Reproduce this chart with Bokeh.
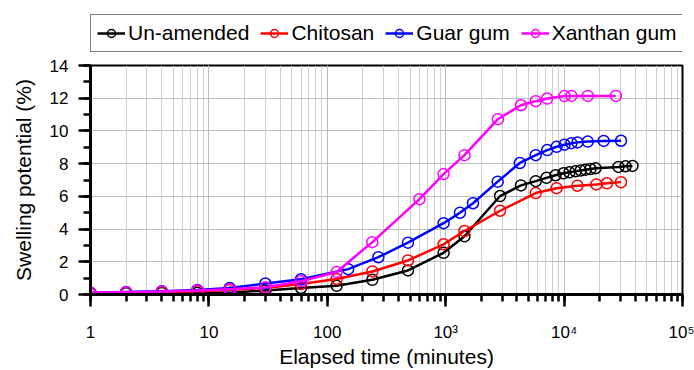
from bokeh.plotting import figure
from bokeh.layouts import column
from bokeh.models import Range1d, SingleIntervalTicker, LogTicker, Legend, LegendItem
from bokeh.embed import file_html
from bokeh.resources import INLINE

# ---- data ----
t_unamended = [1, 2, 4, 8, 15, 30, 60, 120, 240, 480, 960, 1440, 2880, 4320, 5760,
               7100, 8460, 9880, 11100, 12500, 13800, 15200, 16700, 18400, 28800, 33000, 37800]
y_unamended = [0.06, 0.07, 0.09, 0.1, 0.1, 0.25, 0.4, 0.53, 0.9, 1.47, 2.55, 3.56, 6.02, 6.67, 6.93,
               7.13, 7.29, 7.41, 7.47, 7.53, 7.58, 7.63, 7.67, 7.72, 7.80, 7.84, 7.86]

t_chitosan = [1, 2, 4, 8, 15, 30, 60, 120, 240, 480, 960, 1440, 2880, 5760, 8640, 12960, 18720, 23040, 30240]
y_chitosan = [0.08, 0.12, 0.15, 0.2, 0.28, 0.4, 0.64, 0.95, 1.41, 2.08, 3.07, 3.88, 5.12, 6.2, 6.5, 6.65, 6.73, 6.8, 6.87]

t_guar = [1, 2, 4, 8, 15, 30, 60, 150, 270, 480, 960, 1320, 1700, 2750, 4230, 5760, 7200, 8640,
          10080, 11520, 12960, 15840, 21600, 30240]
y_guar = [0.1, 0.16, 0.2, 0.28, 0.4, 0.67, 0.93, 1.55, 2.28, 3.17, 4.36, 5.0, 5.58, 6.9, 8.04, 8.52, 8.83, 9.03,
          9.16, 9.25, 9.3, 9.35, 9.39, 9.4]

t_xanthan = [1, 2, 4, 8, 15, 30, 60, 120, 240, 600, 960, 1440, 2760, 4320, 5760, 7200, 10080, 11520, 15840, 27360]
y_xanthan = [0.1, 0.14, 0.18, 0.25, 0.32, 0.44, 0.81, 1.38, 3.2, 5.83, 7.36, 8.52, 10.72, 11.57, 11.82, 11.98,
             12.13, 12.14, 12.14, 12.14]

series_names = ["Un-amended", "Chitosan", "Guar gum", "Xanthan gum"]
series_colors = ["#000000", "#ff0000", "#0000ff", "#ff00ff"]
series_t = [t_unamended, t_chitosan, t_guar, t_xanthan]
series_y = [y_unamended, y_chitosan, y_guar, y_xanthan]

x_tick_labels = {1: "1", 10: "10", 100: "100", 1000: "10\u00b3", 10000: "10\u2074", 100000: "10\u2075"}

FONT = "Liberation Sans"

# ---------------- main chart ----------------
p = figure(width=694, height=315, x_axis_type="log",
           x_range=Range1d(1, 1e5), y_range=Range1d(0, 14),
           output_backend="svg", toolbar_location=None,
           min_border_left=90, min_border_right=12, min_border_top=10, min_border_bottom=74)

p.outline_line_color = "black"
p.outline_line_width = 2
p.background_fill_color = "white"
p.border_fill_color = "white"

p.xgrid.grid_line_color = "#bdbdbd"
p.xgrid.minor_grid_line_color = "#cfcfcf"
p.ygrid.grid_line_color = "#bdbdbd"

p.xaxis.ticker = LogTicker(num_minor_ticks=10)
p.xaxis.major_label_overrides = x_tick_labels
p.xaxis.axis_label = "Elapsed time (minutes)"
p.yaxis.axis_label = "Swelling potential (%)"
p.yaxis.ticker = SingleIntervalTicker(interval=2, num_minor_ticks=2)

for ax in (p.xaxis, p.yaxis):
    ax.axis_line_width = 3
    ax.axis_line_color = "black"
    ax.major_tick_line_width = 2.5
    ax.minor_tick_line_width = 2.5
    ax.major_tick_in = 0
    ax.minor_tick_in = 0
    ax.major_tick_out = 12
    ax.minor_tick_out = 7
    ax.major_label_text_font = FONT
    ax.major_label_text_font_size = "17px"
    ax.major_label_text_color = "black"
    ax.axis_label_text_font = FONT
    ax.axis_label_text_font_size = "21px"
    ax.axis_label_text_font_style = "normal"
    ax.axis_label_text_color = "black"

p.xaxis.major_label_standoff = 16
p.xaxis.axis_label_standoff = 0
p.yaxis.major_label_standoff = 10
p.yaxis.axis_label_standoff = 12

for name, col, tt, yy in zip(series_names, series_colors, series_t, series_y):
    p.line(tt, yy, line_color=col, line_width=2.5)
    p.scatter(tt, yy, marker="circle", size=11, fill_color=None, line_color=col, line_width=1.5)

# ---------------- legend strip (series drawn out of view, only the legend shows) ----------------
lg = figure(width=694, height=55, x_range=Range1d(-2, -1), y_range=Range1d(-2, -1),
            output_backend="svg", toolbar_location=None,
            x_axis_location=None, y_axis_location=None,
            min_border_left=90, min_border_right=12, min_border_top=0, min_border_bottom=0)
lg.outline_line_color = None
lg.grid.visible = False
lg.background_fill_color = "white"
lg.border_fill_color = "white"

items = []
for name, col, tt, yy in zip(series_names, series_colors, series_t, series_y):
    ln = lg.line(tt, yy, line_color=col, line_width=2.5)
    sc = lg.scatter(tt, yy, marker="circle", size=11, fill_color=None, line_color=col, line_width=1.5)
    items.append(LegendItem(label=name, renderers=[ln, sc]))

legend = Legend(items=items, orientation="horizontal", location=(0, 3))
legend.label_text_font = FONT
legend.label_text_font_size = "21px"
legend.label_text_color = "black"
legend.glyph_width = 28
legend.glyph_height = 20
legend.label_standoff = 3
legend.spacing = 11
legend.padding = 6
legend.margin = 0
legend.border_line_color = "black"
legend.border_line_width = 1.5
legend.background_fill_color = "white"
legend.background_fill_alpha = 1
lg.add_layout(legend)

layout = column(lg, p, spacing=0)
open("out.html", "w").write(file_html(layout, INLINE))
